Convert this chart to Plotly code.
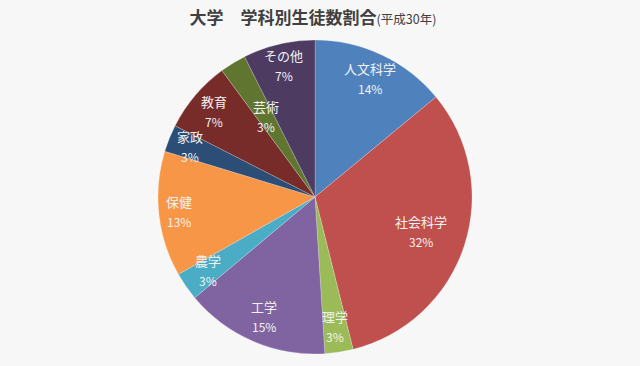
import math
import plotly.graph_objects as go

categories = ["人文科学", "社会科学", "理学", "工学", "農学", "保健", "家政", "教育", "芸術", "その他"]
shares = [14.0, 32.1, 2.9, 14.9, 2.9, 12.9, 2.8, 7.4, 2.7, 7.4]
colors = ["#4f81bd", "#c0504d", "#9bbb59", "#8064a2", "#4bacc6",
          "#f79646", "#2c4d75", "#772c2a", "#5f7530", "#4d3b62"]

# style: radial position of each data label as a fraction of the pie radius
label_radius = [0.83, 0.71, 0.84, 0.83, 0.83, 0.87, 0.86, 0.84, 0.60, 0.86]

W, H = 640, 366
M = dict(l=0, r=10, t=40, b=12)
plot_w = W - M["l"] - M["r"]
plot_h = H - M["t"] - M["b"]
R = min(plot_w, plot_h) / 2

fig = go.Figure(go.Pie(
    labels=categories,
    values=shares,
    sort=False,
    direction="clockwise",
    rotation=0,
    marker=dict(colors=colors, line=dict(color="rgba(255,255,255,0.35)", width=0.6)),
    textinfo="none",
    hoverinfo="label+percent",
    showlegend=False,
))

total = sum(shares)
cum = 0.0
annotations = []
for name, v, f in zip(categories, shares, label_radius):
    mid = (cum + v / 2) / total * 2 * math.pi
    cum += v
    r = f * R
    x = 0.5 + r * math.sin(mid) / plot_w
    y = 0.5 + r * math.cos(mid) / plot_h
    annotations.append(dict(
        x=x, y=y, xref="paper", yref="paper",
        xanchor="center", yanchor="bottom", yshift=-1,
        text=name, showarrow=False,
        font=dict(family="Noto Sans CJK JP", size=13, color="#f2f2f2"),
    ))
    annotations.append(dict(
        x=x, y=y, xref="paper", yref="paper",
        xanchor="center", yanchor="top", yshift=1,
        text=f"{round(v / total * 100)}%", showarrow=False,
        font=dict(family="Noto Sans CJK JP", size=12, color="#f2f2f2"),
    ))

fig.update_layout(
    width=W, height=H,
    margin=M,
    paper_bgcolor="#f7f7f7",
    plot_bgcolor="#f7f7f7",
    annotations=annotations,
    title=dict(
        text="<b>大学　学科別生徒数割合</b><span style='font-size:12.5px'>(平成30年)</span>",
        x=0.489, xanchor="center", y=0.952, yanchor="middle",
        font=dict(family="Noto Sans CJK JP", size=17, color="#404040"),
    ),
)

fig.write_html("out.html")
